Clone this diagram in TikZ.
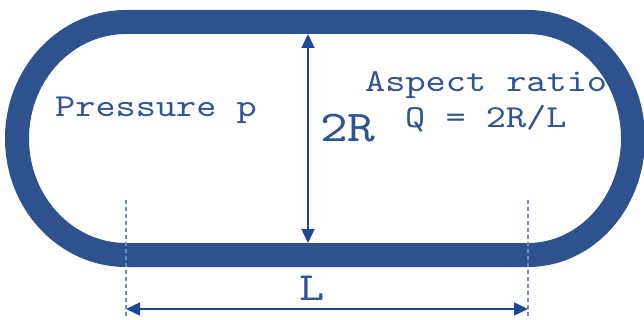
\documentclass[tikz,border=0pt]{standalone}
\usepackage{fontspec}
\newfontfamily\cmono[FakeStretch=1.2]{lmmono10-regular.otf}
\usetikzlibrary{arrows.meta}
\definecolor{ringblue}{RGB}{46,82,142}
\definecolor{txtblue}{RGB}{47,84,150}
\definecolor{arrblue}{RGB}{31,72,150}
\definecolor{dashblue}{RGB}{110,138,190}
\newcommand{\cfont}[1]{\cmono\fontsize{#1}{#1}\selectfont}
\tikzset{
  lbl/.style={inner sep=0pt, anchor=base west, text=txtblue, font=\cfont{32}},
  dimarrow/.style={draw=arrblue, line width=1.5pt, {Triangle[length=14pt,width=13pt]}-{Triangle[length=14pt,width=13pt]}},
  guide/.style={draw=dashblue, line width=1.6pt, dash pattern=on 4pt off 3pt}
}
\begin{document}
\begin{tikzpicture}[x=1pt,y=-1pt]
\useasboundingbox (0,0) rectangle (644,320);
% texts (drawn before ring: ring overlaps "ratio")
\node[lbl] (press) at (55,117) {Pressure p};
\node[lbl] (aspect) at (365,92) {Aspect ratio};
\node[lbl] (q) at (405,128) {Q = 2R/L};
\node[lbl, font=\cfont{44}] (twoR) at (320,142) {2R};
\node[lbl, font=\cfont{40}] (Llbl) at (299,300) {L};
% ring
\draw[ringblue, line width=24pt] (126,22) -- (528,22)
  arc[start angle=-90, end angle=90, x radius=105, y radius=116.5]
  -- (126,255)
  arc[start angle=90, end angle=270, x radius=109, y radius=116.5] -- cycle;
% coordinates
\coordinate (vt) at (308,34);
\coordinate (vb) at (308,243);
\coordinate (gl1) at (126,200);
\coordinate (gl2) at (126,318);
\coordinate (gr1) at (528,200);
\coordinate (gr2) at (528,318);
\coordinate (hl) at (126,309);
\coordinate (hr) at (528,309);
% dimensions
\draw[dimarrow] (vt) -- (vb);
\draw[guide] (gl1) -- (gl2);
\draw[guide] (gr1) -- (gr2);
\draw[dimarrow] (hl) -- (hr);
\end{tikzpicture}
\end{document}
